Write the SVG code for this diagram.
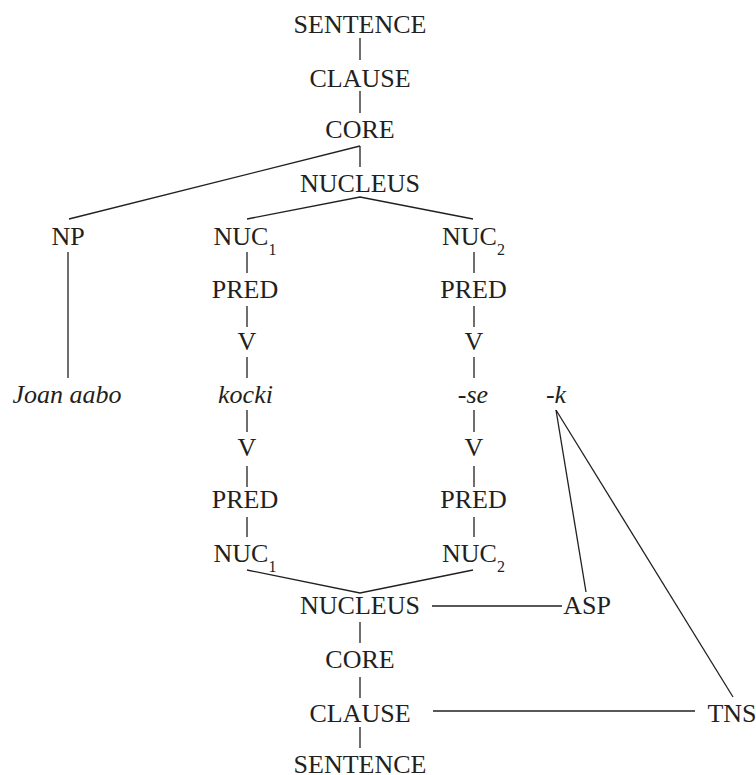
<svg xmlns="http://www.w3.org/2000/svg" width="756" height="775" viewBox="0 0 756 775">
<style>
text{font-family:"Liberation Serif","Times New Roman",serif;font-size:26px;fill:#231f20;text-anchor:middle}
.it{font-style:italic}
.sub{font-size:16px}
#connectors line,#connectors polyline{stroke:#231f20;stroke-width:1.3;fill:none}
</style>
<rect width="756" height="775" fill="#ffffff"/>
<g id="connectors">
<line x1="360" y1="38" x2="360" y2="60"/>
<line x1="360" y1="91" x2="360" y2="113"/>
<line x1="360" y1="146" x2="360" y2="167"/>
<line x1="360" y1="146" x2="69" y2="219"/>
<polyline points="247,219 360,197 473,219"/>
<line x1="68" y1="252" x2="68" y2="378"/>
<line x1="247" y1="252" x2="247" y2="273"/>
<line x1="247" y1="306" x2="247" y2="327"/>
<line x1="247" y1="357" x2="247" y2="378"/>
<line x1="247" y1="410" x2="247" y2="432"/>
<line x1="247" y1="466" x2="247" y2="487"/>
<line x1="247" y1="517" x2="247" y2="537"/>
<line x1="474" y1="252" x2="474" y2="273"/>
<line x1="474" y1="306" x2="474" y2="327"/>
<line x1="474" y1="357" x2="474" y2="378"/>
<line x1="474" y1="410" x2="474" y2="432"/>
<line x1="474" y1="466" x2="474" y2="487"/>
<line x1="474" y1="517" x2="474" y2="537"/>
<polyline points="247,570 360,593 473,570"/>
<line x1="360" y1="622" x2="360" y2="643"/>
<line x1="360" y1="677" x2="360" y2="698"/>
<line x1="360" y1="727" x2="360" y2="748"/>
<line x1="432" y1="606" x2="562" y2="606"/>
<line x1="433" y1="711" x2="695" y2="711"/>
<line x1="556" y1="410" x2="586" y2="592"/>
<line x1="556" y1="410" x2="733" y2="697"/>
</g>
<g id="sentence-top"><text x="360" y="33">SENTENCE</text></g>
<g id="clause-top"><text x="360" y="87">CLAUSE</text></g>
<g id="core-top"><text x="360" y="138">CORE</text></g>
<g id="nucleus-top"><text x="360" y="192">NUCLEUS</text></g>
<g id="np"><text x="68" y="245">NP</text></g>
<g id="nuc1-top"><text x="245" y="245">NUC<tspan class="sub" dy="10">1</tspan></text></g>
<g id="nuc2-top"><text x="473.5" y="245">NUC<tspan class="sub" dy="10">2</tspan></text></g>
<g id="pred1-top"><text x="245" y="298">PRED</text></g>
<g id="pred2-top"><text x="473.5" y="298">PRED</text></g>
<g id="v1-top"><text x="247" y="350">V</text></g>
<g id="v2-top"><text x="474" y="350">V</text></g>
<g id="joan-aabo"><text class="it" x="67" y="403">Joan aabo</text></g>
<g id="kocki"><text class="it" x="245.5" y="403">kocki</text></g>
<g id="se"><text class="it" x="473" y="403">-se</text></g>
<g id="k"><text class="it" x="556" y="403">-k</text></g>
<g id="v1-bottom"><text x="247" y="456">V</text></g>
<g id="v2-bottom"><text x="474" y="456">V</text></g>
<g id="pred1-bottom"><text x="245" y="508">PRED</text></g>
<g id="pred2-bottom"><text x="473.5" y="508">PRED</text></g>
<g id="nuc1-bottom"><text x="245" y="562">NUC<tspan class="sub" dy="10">1</tspan></text></g>
<g id="nuc2-bottom"><text x="473.5" y="562">NUC<tspan class="sub" dy="10">2</tspan></text></g>
<g id="nucleus-bottom"><text x="360" y="614">NUCLEUS</text></g>
<g id="asp"><text x="587" y="614">ASP</text></g>
<g id="core-bottom"><text x="360" y="668">CORE</text></g>
<g id="clause-bottom"><text x="360" y="722">CLAUSE</text></g>
<g id="tns"><text x="732" y="722">TNS</text></g>
<g id="sentence-bottom"><text x="360" y="773">SENTENCE</text></g>
</svg>
